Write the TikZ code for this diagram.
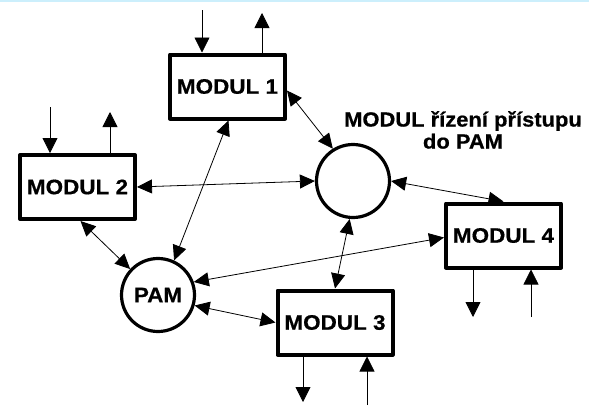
\documentclass[tikz,border=0pt]{standalone}
\usepackage{fontspec}
\newfontfamily\modfont[FakeStretch=1.07,FakeBold=0.6]{Liberation Sans}
\usetikzlibrary{arrows.meta}

\begin{document}
\begin{tikzpicture}[x=1pt,y=-1pt,
  modul/.style={draw,line width=4pt,line join=round,minimum width=115pt,minimum height=64pt,
    inner sep=0pt,font=\modfont\bfseries\fontsize{21}{24}\selectfont},
  uzel/.style={draw,circle,line width=3.2pt,minimum size=73pt,inner sep=0pt,
    font=\modfont\bfseries\fontsize{21}{24}\selectfont},
  spoj/.style={line width=0.8pt,{Triangle[length=15pt,width=14pt]}-{Triangle[length=15pt,width=14pt]}},
  vstup/.style={line width=0.8pt,-{Triangle[length=15pt,width=15pt]}}]
  \useasboundingbox (0,0) rectangle (589,405);
  \fill[cyan!20] (0,0) rectangle (589,2);

  \node[modul] (m1) at (227.5,86.5) {MODUL 1};
  \node[modul] (m2) at (77.5,187) {MODUL 2};
  \node[modul] (m3) at (335,322.5) {MODUL 3};
  \node[modul] (m4) at (503.5,235.5) {MODUL 4};
  \node[uzel] (ridic) at (353,181) {};
  \node[uzel] (pam) at (158,295) {PAM};
  \node[align=center,font=\modfont\bfseries\fontsize{20.5}{22}\selectfont] (popis) at (463,130)
    {MODUL řízení přístupu\\do PAM};

  % spoje mezi moduly
  \draw[spoj] ([yshift=-4pt]m1.east) -- (ridic.122);
  \draw[spoj] (m2.east) -- (ridic.west);
  \draw[spoj] (ridic.east) -- (m4.north);
  \draw[spoj] ([xshift=1pt]m1.south) -- (pam.65);
  \draw[spoj] ([xshift=3pt]m2.south) -- (pam.137);
  \draw[spoj] ([yshift=-2pt]m4.west) -- (pam.20);
  \draw[spoj] (pam.-16) -- (m3.west);
  \draw[spoj] (ridic.-95) -- (m3.north);

  % vstupy a vystupy
  \coordinate (m1in) at (202,10);
  \coordinate (m1out) at (262,13);
  \coordinate (m2in) at (50,107);
  \coordinate (m2out) at (110,112);
  \coordinate (m3out) at (303,402);
  \coordinate (m3in) at (367,405);
  \coordinate (m4out) at (473,317);
  \coordinate (m4in) at (531,317);
  \draw[vstup] (m1in) -- (m1in |- m1.north);
  \draw[vstup] (m1out |- m1.north) -- (m1out);
  \draw[vstup] (m2in) -- (m2in |- m2.north);
  \draw[vstup] (m2out |- m2.north) -- (m2out);
  \draw[vstup] (m3out |- m3.south) -- (m3out);
  \draw[vstup] (m3in) -- (m3in |- m3.south);
  \draw[vstup] (m4out |- m4.south) -- (m4out);
  \draw[vstup] (m4in) -- (m4in |- m4.south);
\end{tikzpicture}
\end{document}
